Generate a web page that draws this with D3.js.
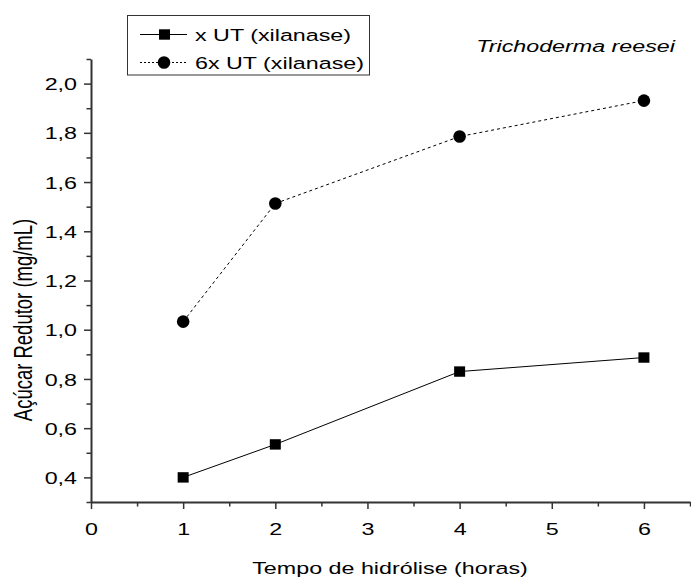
<!DOCTYPE html>
<html>
<head>
<meta charset="utf-8">
<script src="https://cdn.jsdelivr.net/npm/d3@7"></script>
<style>
  html, body { margin: 0; padding: 0; background: #fff; }
  svg { display: block; font-family: "Liberation Sans", Arial, sans-serif; }
</style>
</head>
<body>
<svg id="chart" width="691" height="579"></svg>
<script>
// Hydrolysis time (hours)
const hours = [1, 2, 4, 6];
// Reducing sugar (mg/mL) for each xylanase dose
const doseX = [0.40, 0.534, 0.830, 0.887];
const dose6x = [1.033, 1.513, 1.785, 1.931];
const seriesNames = ["x UT (xilanase)", "6x UT (xilanase)"];
const xTicks = [0, 1, 2, 3, 4, 5, 6];
const yTicks = [0.4, 0.6, 0.8, 1.0, 1.2, 1.4, 1.6, 1.8, 2.0];

const svg = d3.select("#chart");
const plotLeft = 91, plotRight = 690, plotTop = 59, plotBottom = 502;
const wide = 1.37;          // horizontal stretch of the lettering
const fontSize = 17;

const x = d3.scaleLinear().domain([0, 6.5]).range([plotLeft, plotRight]);
const y = d3.scaleLinear().domain([0.3, 2.1]).range([plotBottom, plotTop]);
const fmt = v => d3.format(".1f")(v).replace(".", ",");
const axisColor = "#333";

// X axis: major ticks with labels, minor ticks at half hours
const gx = svg.append("g").attr("transform", `translate(0,${plotBottom})`)
  .call(d3.axisBottom(x).tickValues(xTicks).tickFormat(d3.format("d")).tickSize(7).tickSizeOuter(0));
gx.selectAll(".tick text").attr("y", 33).attr("dy", null)
  .attr("transform", `scale(${wide},1)`);
svg.append("g").attr("transform", `translate(0,${plotBottom})`)
  .call(d3.axisBottom(x).tickValues(d3.range(0.5, 6.6, 1)).tickSize(4.5).tickFormat("").tickSizeOuter(0))
  .call(g => g.select(".domain").remove());

// Y axis
const gy = svg.append("g").attr("transform", `translate(${plotLeft},0)`)
  .call(d3.axisLeft(y).tickValues(yTicks).tickFormat(fmt).tickSize(7).tickSizeOuter(0));
gy.selectAll(".tick text").attr("x", -14 / wide).attr("dy", "0.36em")
  .attr("transform", `scale(${wide},1)`);
svg.append("g").attr("transform", `translate(${plotLeft},0)`)
  .call(d3.axisLeft(y).tickValues(d3.range(0.3, 2.15, 0.2)).tickSize(4.5).tickFormat("").tickSizeOuter(0))
  .call(g => g.select(".domain").remove());

svg.selectAll(".domain").attr("stroke", axisColor).attr("stroke-width", 2);
svg.selectAll(".tick line").attr("stroke", axisColor).attr("stroke-width", 1.5);
svg.selectAll(".tick text").attr("font-size", fontSize).attr("fill", "#000")
  .attr("font-family", "'Liberation Sans', Arial, sans-serif");

// Horizontal label helper
function label(px, py, txt, anchor, italic) {
  return svg.append("text")
    .attr("transform", `translate(${px},${py}) scale(${wide},1)`)
    .attr("text-anchor", anchor).attr("font-size", fontSize)
    .attr("font-style", italic ? "italic" : null).text(txt);
}

// Axis titles
label(390, 574, "Tempo de hidrólise (horas)", "middle");
svg.append("text").attr("transform", `translate(32,320) scale(${wide},1) rotate(-90)`)
  .attr("text-anchor", "middle").attr("font-size", 18.5).text("Açúcar Redutor (mg/mL)");

// Species label
label(675, 52, "Trichoderma reesei", "end", true);

const line = d3.line().x(d => x(d[0])).y(d => y(d[1]));

// 6x series: dashed line with circles
const pts6x = hours.map((h, i) => [h, dose6x[i]]);
svg.append("path").datum(pts6x).attr("d", line).attr("fill", "none")
  .attr("stroke", "#000").attr("stroke-width", 1).attr("stroke-dasharray", "3,3");
svg.selectAll(".c6").data(pts6x).join("circle")
  .attr("cx", d => x(d[0])).attr("cy", d => y(d[1])).attr("r", 6.3).attr("fill", "#000");

// x series: solid line with squares
const ptsX = hours.map((h, i) => [h, doseX[i]]);
svg.append("path").datum(ptsX).attr("d", line).attr("fill", "none")
  .attr("stroke", "#000").attr("stroke-width", 1);
svg.selectAll(".sx").data(ptsX).join("rect")
  .attr("x", d => x(d[0]) - 5.5).attr("y", d => y(d[1]) - 5.2)
  .attr("width", 11).attr("height", 10.4).attr("fill", "#000");

// Legend
const lg = svg.append("g");
lg.append("rect").attr("x", 127.5).attr("y", 15.5).attr("width", 242).attr("height", 59.5)
  .attr("fill", "#fff").attr("stroke", "#333").attr("stroke-width", 1);
const rows = [
  { name: seriesNames[0], dash: null, shape: "square", cy: 34.5 },
  { name: seriesNames[1], dash: "2,2", shape: "circle", cy: 62.5 }
];
rows.forEach(r => {
  lg.append("line").attr("x1", 140).attr("x2", 187).attr("y1", r.cy).attr("y2", r.cy)
    .attr("stroke", "#000").attr("stroke-width", 1).attr("stroke-dasharray", r.dash);
  if (r.shape === "square") {
    lg.append("rect").attr("x", 159).attr("y", r.cy - 5.2).attr("width", 11).attr("height", 10.4).attr("fill", "#000");
  } else {
    lg.append("circle").attr("cx", 164).attr("cy", r.cy).attr("r", 6.3).attr("fill", "#000");
  }
  label(195, r.cy + 6.5, r.name, "start");
});
</script>
</body>
</html>
